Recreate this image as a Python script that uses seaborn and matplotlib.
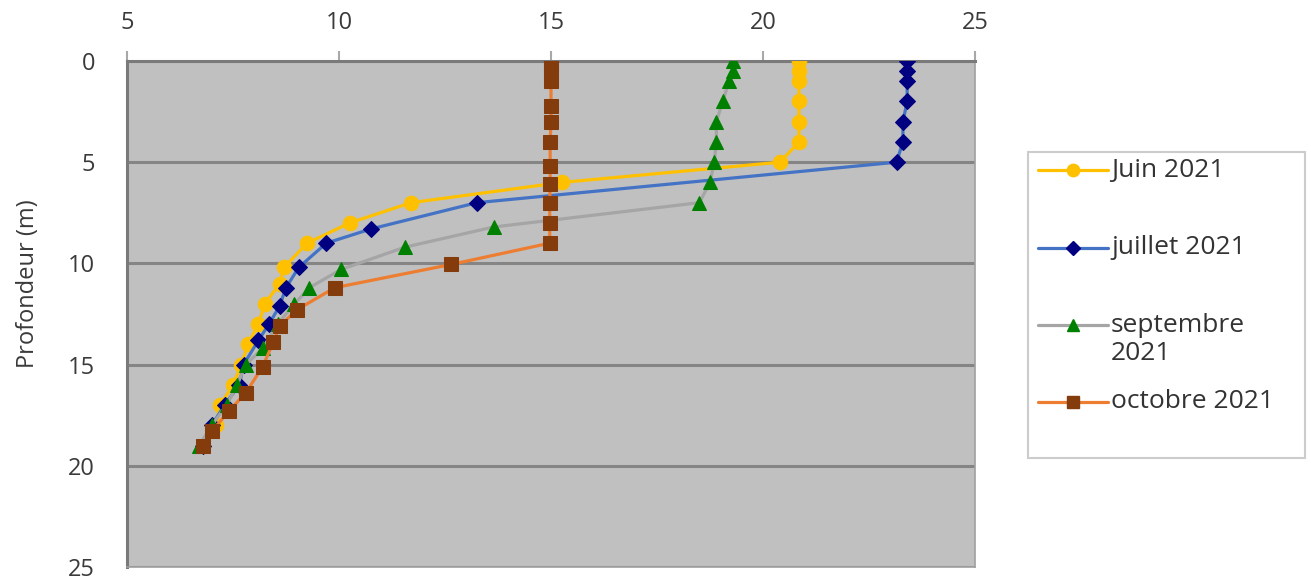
import numpy as np
import pandas as pd
import matplotlib
matplotlib.use("Agg")
import matplotlib.pyplot as plt
import seaborn as sns
from matplotlib.lines import Line2D
from matplotlib.patches import Rectangle

# ------------------------------
# Temperature profiles (°C vs depth in m)
# ------------------------------
juin_depth = [0, 0.5, 1, 2, 3, 4, 5, 6, 7, 8, 9, 10.2, 11, 12, 13, 14, 15, 16, 17, 18, 19]
juin_temp = [20.85, 20.85, 20.85, 20.85, 20.85, 20.85, 20.4, 15.25, 11.7, 10.25, 9.25,
             8.7, 8.6, 8.25, 8.1, 7.85, 7.7, 7.5, 7.2, 7.1, 6.8]

juillet_depth = [0, 0.5, 1, 2, 3, 4, 5, 7, 8.3, 9, 10.2, 11.2, 12.1, 13, 13.8, 15, 16, 17, 18, 19]
juillet_temp = [23.4, 23.4, 23.4, 23.4, 23.3, 23.3, 23.15, 13.25, 10.75, 9.7, 9.05,
                8.75, 8.6, 8.35, 8.1, 7.75, 7.65, 7.3, 7.0, 6.8]

sept_depth = [0, 0.5, 1, 2, 3, 4, 5, 6, 7, 8.2, 9.2, 10.3, 11.2, 12, 13, 14.2, 15, 16, 17, 18, 19]
sept_temp = [19.3, 19.3, 19.2, 19.05, 18.9, 18.9, 18.85, 18.75, 18.5, 13.65, 11.55,
             10.05, 9.3, 8.95, 8.55, 8.2, 7.8, 7.6, 7.35, 7.0, 6.7]

oct_depth = [0, 0.2, 0.6, 1.0, 2.2, 3.0, 4.0, 5.2, 6.1, 7.0, 8.0, 9.0, 10.05, 11.2,
             12.3, 13.1, 13.9, 15.1, 16.4, 17.3, 18.3, 19.0]
oct_temp = [15.0, 15.0, 15.0, 15.0, 15.0, 15.0, 14.98, 14.98, 14.98, 14.97, 14.97, 14.97,
            12.65, 9.9, 9.0, 8.6, 8.45, 8.2, 7.8, 7.4, 7.0, 6.8]

labels = [["Juin 2021"], ["juillet 2021"], ["septembre", "2021"], ["octobre 2021"]]
line_colors = ["#FFC000", "#4472C4", "#A5A5A5", "#ED7D31"]
marker_colors = ["#FFC000", "#000080", "#008000", "#843C0C"]
markers = ["o", "D", "^", "s"]
marker_sizes = [10.5, 8, 10.5, 10.5]

x_ticks = [5, 10, 15, 20, 25]
y_ticks = [0, 5, 10, 15, 20, 25]

sns.set_style("white")
plt.rcParams["font.family"] = ["Open Sans", "DejaVu Sans"]

W, H = 1311, 580
fig = plt.figure(figsize=(W / 100, H / 100), dpi=100)
ax = fig.add_axes([127 / W, 1 - 567 / H, (975 - 127) / W, (567 - 61) / H])
ax.set_facecolor("#C0C0C0")

series = [(juin_temp, juin_depth), (juillet_temp, juillet_depth),
          (sept_temp, sept_depth), (oct_temp, oct_depth)]

for i, (t, d) in enumerate(series):
    df = pd.DataFrame({"temp": t, "depth": d})
    sns.lineplot(data=df, x="temp", y="depth", sort=False, estimator=None, ax=ax,
                 color=line_colors[i], linewidth=2.3, marker=markers[i],
                 markersize=marker_sizes[i], markerfacecolor=marker_colors[i],
                 markeredgecolor=marker_colors[i], zorder=3 + i)

ax.set_xlim(5, 25)
ax.set_ylim(25, 0)
ax.set_xticks(x_ticks)
ax.set_yticks(y_ticks)
ax.xaxis.tick_top()
ax.tick_params(axis="both", labelsize=17, colors="#A8A8A8", labelcolor="#3A3A3A",
               length=7, width=1.5, direction="out")
ax.tick_params(axis="x", pad=12)
ax.tick_params(axis="y", pad=16)
ax.set_xlabel("")
ax.set_ylabel("Profondeur (m)", fontsize=17, color="#3A3A3A")
ax.yaxis.set_label_coords(-0.103, 0.56)

ax.yaxis.grid(True, color="#858585", linewidth=2.2)
ax.xaxis.grid(False)
ax.set_axisbelow(True)
for s in ["left", "top"]:
    ax.spines[s].set_color("#7A7A7A")
    ax.spines[s].set_linewidth(2.2)
for s in ["right", "bottom"]:
    ax.spines[s].set_color("#A0A0A0")
    ax.spines[s].set_linewidth(1.2)

# legend drawn by hand (Excel style box with fixed row positions)
def fx(px):
    return px / W

def fy(py):
    return 1 - py / H

fig.add_artist(Rectangle((fx(1028), fy(458)), fx(1305) - fx(1028), fy(152) - fy(458),
                         transform=fig.transFigure, facecolor="white",
                         edgecolor="#CCCCCC", linewidth=1.5))
row_y = [170, 248, 325, 402]
for i in range(4):
    y = fy(row_y[i])
    fig.add_artist(Line2D([fx(1038), fx(1108)], [y, y], transform=fig.transFigure,
                          color=line_colors[i], linewidth=2.3))
    fig.add_artist(Line2D([fx(1073)], [y], transform=fig.transFigure,
                          marker=markers[i], markersize=marker_sizes[i] * 0.85,
                          markerfacecolor=marker_colors[i],
                          markeredgecolor=marker_colors[i], linestyle="none"))
    for j, line in enumerate(labels[i]):
        fig.text(fx(1111), fy(row_y[i] + j * 28), line, fontsize=19, color="#333333",
                 va="center", ha="left")

fig.savefig("out.png", dpi=100)
